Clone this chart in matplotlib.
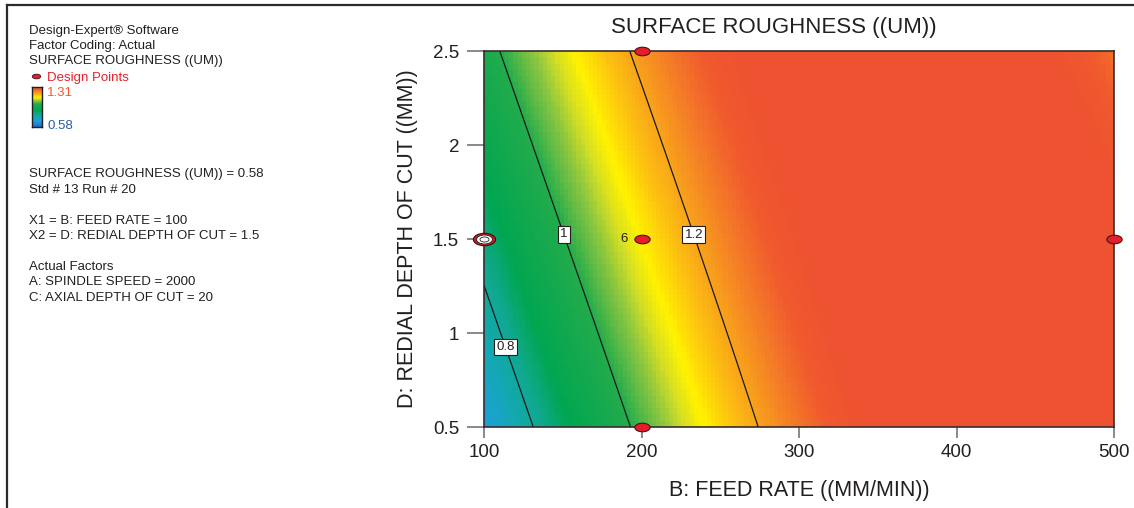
import numpy as np
import matplotlib
matplotlib.use("Agg")
import matplotlib.pyplot as plt
from matplotlib.colors import LinearSegmentedColormap
from matplotlib.path import Path
from matplotlib.transforms import Affine2D
from matplotlib.lines import Line2D

plt.rcParams["font.family"] = ["Liberation Sans", "DejaVu Sans"]

# ---- response model: roughness as a function of feed rate B and radial depth D ----
# combined factor u = B + k*D, quadratic in u, plus a B^2*D damping term
k_depth = 41.5
u_center = 213.75
lin_u = 0.002906
quad_u = -5.42e-6
damp_BBD = -1.7e-7

feed_range = [100, 500]
depth_range = [0.5, 2.5]
response_range = [0.58, 1.31]
contour_levels = [0.8, 1.0, 1.2]

# design points (feed rate, radial depth) and replicate counts
design_feed = [200, 200, 200, 500]
design_depth = [2.5, 1.5, 0.5, 1.5]
design_reps = [1, 6, 1, 1]
selected_feed = [100]
selected_depth = [1.5]

x_ticks = [100, 200, 300, 400, 500]
y_ticks = [0.5, 1, 1.5, 2, 2.5]

info_lines = [
    "SURFACE ROUGHNESS ((UM)) = 0.58",
    "Std # 13 Run # 20",
    "",
    "X1 = B: FEED RATE = 100",
    "X2 = D: REDIAL DEPTH OF CUT = 1.5",
    "",
    "Actual Factors",
    "A: SPINDLE SPEED = 2000",
    "C: AXIAL DEPTH OF CUT = 20",
]


def roughness(B, D):
    du = B + k_depth * D - u_center
    return (1.0 + lin_u * du + quad_u * du ** 2
            + damp_BBD * (D - 0.5) * (B - 100) ** 2)


# blue -> green -> yellow -> red response palette
vmin, vmax = response_range
stops = [
    (0.58, "#1b6fd0"),
    (0.68, "#1e9fdc"),
    (0.76, "#13a8b2"),
    (0.82, "#10a890"),
    (0.88, "#00a651"),
    (1.00, "#22ab4c"),
    (1.06, "#8dc63f"),
    (1.095, "#d7df23"),
    (1.125, "#fff200"),
    (1.17, "#fcc010"),
    (1.20, "#f9a51a"),
    (1.24, "#f47f26"),
    (1.28, "#f0592d"),
    (1.31, "#ee5231"),
]
cmap = LinearSegmentedColormap.from_list(
    "de", [((v - vmin) / (vmax - vmin), c) for v, c in stops])

W, H = 1134, 508
fig = plt.figure(figsize=(W / 100, H / 100), dpi=100)


def fx(px):
    return px / W


def fy(py):
    return 1 - py / H


ax = fig.add_axes([fx(484), fy(427), (1114 - 484) / W, (427 - 51) / H])

# banded surface
xe = np.linspace(feed_range[0], feed_range[1], 151)
ye = np.linspace(depth_range[0], depth_range[1], 61)
xc = 0.5 * (xe[1:] + xe[:-1])
yc = 0.5 * (ye[1:] + ye[:-1])
XC, YC = np.meshgrid(xc, yc)
ax.pcolormesh(xe, ye, roughness(XC, YC), cmap=cmap, vmin=vmin, vmax=vmax,
              shading="flat", rasterized=True)

# contour lines
xf = np.linspace(feed_range[0], feed_range[1], 400)
yf = np.linspace(depth_range[0], depth_range[1], 200)
XF, YF = np.meshgrid(xf, yf)
cs = ax.contour(XF, YF, roughness(XF, YF), levels=contour_levels,
                colors="#1a1a1a", linewidths=0.9)
labels = ax.clabel(cs, inline=False, fontsize=9.5, fmt=lambda v: f"{v:g}",
                   manual=[(115, 0.93), (149, 1.52), (229, 1.51)])
for t in labels:
    t.set_rotation(0)
    t.set_color("#231f20")
    t.set_bbox(dict(boxstyle="square,pad=0.18", fc="white", ec="#231f20", lw=0.8))
    t.set_zorder(5)

# design point markers (flattened ellipses)
ellipse = Path.unit_circle().transformed(Affine2D().scale(1.0, 0.56))
ax.plot(design_feed, design_depth, ls="none", marker=ellipse, markersize=11,
        mfc="#e2202a", mec="#4a1212", mew=0.8, clip_on=False, zorder=10)
for bx, dy, n in zip(design_feed, design_depth, design_reps):
    if n > 1:
        ax.annotate(str(n), (bx, dy), xytext=(-10, 0), textcoords="offset points",
                    ha="right", va="center", fontsize=9.5, color="#231f20",
                    zorder=11)

ax.plot(selected_feed, selected_depth, ls="none", marker=ellipse, markersize=16,
        mfc="#d7191f", mec="#3a1010", mew=0.8, clip_on=False, zorder=10)
ax.plot(selected_feed, selected_depth, ls="none", marker=ellipse, markersize=11.5,
        mfc="white", mec="#222222", mew=0.6, clip_on=False, zorder=11)
ax.plot(selected_feed, selected_depth, ls="none", marker=ellipse, markersize=6.5,
        mfc="white", mec="#222222", mew=0.6, clip_on=False, zorder=12)

ax.set_xlim(feed_range)
ax.set_ylim(depth_range)
ax.set_xticks(x_ticks)
ax.set_yticks(y_ticks)
ax.set_xticklabels([f"{v:g}" for v in x_ticks])
ax.set_yticklabels([f"{v:g}" for v in y_ticks])
ax.tick_params(axis="x", length=8, width=1.3, color="#808080", pad=4,
               labelsize=13.5, labelcolor="#231f20")
ax.tick_params(axis="y", length=12.5, width=1.3, color="#808080", pad=5.5,
               labelsize=13.5, labelcolor="#231f20")
for s in ax.spines.values():
    s.set_color("#3a2c2c")
    s.set_linewidth(1.2)

ax.set_title("SURFACE ROUGHNESS ((UM))", fontsize=16, color="#231f20",
             x=(774 - 484) / 630, pad=13)
ax.set_xlabel("B: FEED RATE ((MM/MIN))", fontsize=15.5, color="#231f20")
ax.set_ylabel("D: REDIAL DEPTH OF CUT ((MM))", fontsize=15.5, color="#231f20")
ax.xaxis.set_label_coords(0.5, (427 - 480) / 376)
ax.yaxis.set_label_coords((418 - 484) / 630, 0.5)

# outer frame (top and left edges)
fig.add_artist(Line2D([fx(7), 1], [fy(5), fy(5)], color="#2a2a2a", lw=1.6))
fig.add_artist(Line2D([fx(7), fx(7)], [fy(5), 0], color="#2a2a2a", lw=1.6))

# side panel
txt = dict(fontsize=9.5, color="#231f20", va="baseline", ha="left")
fig.text(fx(29), fy(34), "Design-Expert\u00ae Software", **txt)
fig.text(fx(29), fy(49), "Factor Coding: Actual", **txt)
fig.text(fx(29), fy(64), "SURFACE ROUGHNESS ((UM))", **txt)
fig.add_artist(Line2D([fx(36)], [fy(76)], ls="none", marker=ellipse, markersize=6,
                      mfc="#e2202a", mec="#3a1010", mew=0.6,
                      transform=fig.transFigure))
fig.text(fx(47), fy(81), "Design Points", fontsize=9.5, color="#e8202a",
         va="baseline", ha="left")

cax = fig.add_axes([fx(32), fy(127), 10 / W, 40 / H])
cax.imshow(np.linspace(1, 0, 64)[:, None], aspect="auto", cmap=cmap)
cax.set_xticks([])
cax.set_yticks([])
for s in cax.spines.values():
    s.set_color("#231f20")
    s.set_linewidth(1.0)
fig.text(fx(47), fy(96.5), f"{vmax:.2f}", fontsize=9.5, color="#ef5a30",
         va="baseline", ha="left")
fig.text(fx(47), fy(129), f"{vmin:.2f}", fontsize=9.5, color="#2a5caa",
         va="baseline", ha="left")

y0 = 177.3
for i, line in enumerate(info_lines):
    if line:
        fig.text(fx(29), fy(y0 + 15.45 * i), line, **txt)

fig.savefig("out.png", dpi=100)
